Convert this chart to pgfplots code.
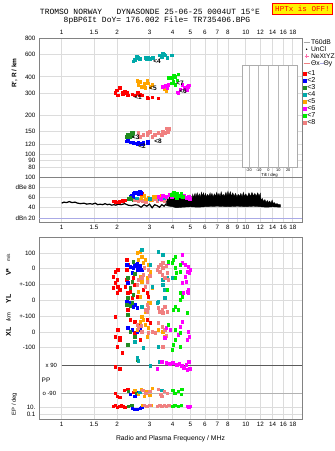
\documentclass[border=0pt]{standalone}
\usepackage{pgfplots}
\pgfplotsset{compat=1.18}
\usepackage{fontspec}
\setmainfont{Liberation Sans}
\newfontfamily\monofont{Liberation Mono}
\definecolor{cRed}{RGB}{255,0,0}
\definecolor{cBlue}{RGB}{0,0,255}
\definecolor{cGreen}{RGB}{34,139,34}
\definecolor{cTeal}{RGB}{0,170,170}
\definecolor{cOrange}{RGB}{255,165,0}
\definecolor{cMag}{RGB}{255,0,255}
\definecolor{cLime}{RGB}{0,235,0}
\definecolor{cSalmon}{RGB}{240,128,128}
\definecolor{frameC}{RGB}{130,130,130}
\definecolor{gridC}{RGB}{220,220,220}
\definecolor{lav}{RGB}{170,170,230}
\definecolor{pinkC}{RGB}{255,110,170}
\newcommand{\fsz}[1]{\fontsize{#1}{#1}\selectfont}
\pgfplotsset{pts/.style={only marks, mark=square*, mark size=1.3bp, color=#1, forget plot}}
\begin{document}
\begin{tikzpicture}
\path[use as bounding box] (0,0) rectangle (335bp,451bp);
\fill[white] (0,0) rectangle (335bp,451bp);
\node[font=\monofont\fsz{8}] at (150bp,439bp) {TROMSO NORWAY\ \ \ DYNASONDE 25-06-25 0004UT 15°E};
\node[font=\monofont\fsz{8}] at (157bp,431bp) {8pBP6It DoY= 176.002 File= TR735406.BPG};
\node[fill=yellow, draw=red, line width=0.8bp, text=red, inner sep=0pt, minimum width=60bp, minimum height=11bp, font=\monofont\fsz{7.6}] at (302.5bp,442.5bp) {HPTx is OFF!};

\begin{axis}[scale only axis, width=263bp, height=139bp, anchor=south west, at={(39bp,274bp)},
  xmode=log, xmin=0.753, xmax=20.2,
  axis line style={frameC, line width=0.8bp},
  xmajorgrids, ymajorgrids, grid style={gridC, line width=0.7bp},
  major tick length=0pt, minor tick length=0pt,
  tick label style={font=\fsz{6.3}, black},
  xtick={1,1.5,2,3,4,5,6,7,8,10,12,14,16,18},
  xticklabels={1,1.5,2,3,4,5,6,7,8,10,12,14,16,18},
  clip=false,
  ymode=log, ymin=67, ymax=800,
  ytick={80,90,100,120,150,200,300,400,600,800},
  yticklabels={80,90,100,120,150,200,300,400,600,800},
  xticklabel pos=upper,
  legend image code/.code={\draw[mark repeat=2,mark phase=2,#1] plot coordinates {(0bp,0bp)(3bp,0bp)(6bp,0bp)};},
  legend style={at={(1.004,0.993)}, anchor=north west, draw=none, fill=none,
    font=\fsz{6.8}, row sep=0.8bp, inner sep=0pt, column sep=1bp,
    nodes={inner sep=0pt, text height=5bp, text depth=1.2bp}},
  legend cell align=left]
\addlegendimage{gray!70, line width=0.8bp}\addlegendentry{T60dB}
\addlegendimage{only marks, mark=*, mark size=0.5bp, black}\addlegendentry{UnCl}
\addlegendimage{only marks, mark=+, mark size=2bp, pinkC}\addlegendentry{NeXtYZ}
\addlegendimage{cSalmon, line width=0.8bp}\addlegendentry{Θx\textcolor{lav}{\rule[1.8bp]{4bp}{0.7bp}}Θy}
\node[rotate=90, font=\bfseries\fsz{6.5}] at (rel axis cs:-0.093,0.748) {R', R / km};
\addplot[pts=cRed] coordinates {(1.99,316)(2.07,328)(2.13,305)(2.02,289)(2.15,294)(2.26,300)(2.29,289)(2.41,294)(2.50,289)(2.57,300)(2.60,305)(2.73,289)(2.91,279)(2.94,274)(3.10,279)(3.34,274)(1.95,300)(2.20,310)(2.65,292)};
\addplot[pts=cBlue] coordinates {(2.29,132)(2.26,127)(2.35,125)(2.44,123)(2.57,121)(2.60,123)(2.73,121)(2.77,123)(2.94,123)(2.94,126)(2.50,122)(2.66,122)};
\addplot[pts=cGreen] coordinates {(2.29,142)(2.38,147)(2.35,137)(2.44,147)(2.26,137)(2.40,140)};
\addplot[pts=cTeal] coordinates {(2.50,541)(2.60,560)(2.66,550)(2.84,560)(2.94,560)(3.02,550)(3.13,560)(3.42,590)(3.50,570)(3.55,612)(3.64,590)(3.74,560)(3.97,590)(2.45,530)(2.55,580)(2.90,555)(3.60,600)};
\addplot[pts=cOrange] coordinates {(2.57,372)(2.66,365)(2.60,346)(2.73,334)(2.91,378)(2.94,358)(3.02,334)(2.84,328)(3.10,346)(3.60,320)(3.70,310)(3.65,335)(2.80,355)};
\addplot[pts=cMag] coordinates {(3.55,334)(3.74,328)(3.79,346)(4.24,305)(4.51,346)(4.66,328)(4.85,334)(4.79,316)(4.29,300)(3.65,340)(4.90,345)(4.40,320)};
\addplot[pts=cLime] coordinates {(3.97,392)(4.13,399)(4.03,365)(4.24,378)(4.13,346)(3.97,358)(3.79,392)(4.30,420)(4.05,410)};
\addplot[pts=cSalmon] coordinates {(2.60,147)(2.77,142)(2.91,142)(2.94,147)(3.10,137)(3.20,142)(3.34,147)(3.50,142)(3.55,150)(3.64,147)(3.74,155)(3.79,150)(2.66,137)(3.80,158)(3.70,160)(3.00,150)};
\addplot[only marks, mark=none, forget plot, nodes near coords, point meta=explicit symbolic,
  every node near coord/.append style={anchor=center, font=\bfseries\fsz{6.5}, black}]
  coordinates {(2.60,279)[<1] (2.73,117)[<2] (2.53,137)[<3] (3.30,531)[<4] (3.13,328)[<5] (4.56,311)[<6] (4.39,358)[<7] (3.34,127)[<8]};
\end{axis}

\begin{axis}[scale only axis, width=55bp, height=102bp, anchor=south west, at={(242bp,284bp)},
  xmin=-27, xmax=29, ymin=0, ymax=1, ytick=\empty,
  xtick={-20,-10,0,10,20}, xticklabels={-20,-10,0,10,20},
  xmajorgrids, grid style={gray!55, line width=0.6bp},
  axis line style={gray!65, line width=0.8bp}, major tick length=0pt,
  axis background/.style={fill=white},
  tick label style={font=\fsz{3.9}}, xticklabel style={yshift=1.5bp},
  xlabel={Tilt / deg}, xlabel style={font=\fsz{4.3}, at={(axis description cs:0.5,-0.08)}, anchor=center},
  legend image code/.code={\draw[mark repeat=2,mark phase=2,#1] plot coordinates {(0bp,0bp)(3bp,0bp)(6bp,0bp)};},
  legend style={at={(1.109,0.945)}, anchor=north west, draw=none, fill=none,
    font=\fsz{7.2}, row sep=0.9bp, inner sep=0pt, column sep=1.5bp,
    nodes={inner sep=0pt, text height=5.1bp, text depth=1bp}},
  legend cell align=left]
\addplot[draw=none, forget plot] coordinates {(0,0.5)};
\addlegendimage{only marks, mark=square*, mark size=1.3bp, cRed}\addlegendentry{<1}
\addlegendimage{only marks, mark=square*, mark size=1.3bp, cBlue}\addlegendentry{<2}
\addlegendimage{only marks, mark=square*, mark size=1.3bp, cGreen}\addlegendentry{<3}
\addlegendimage{only marks, mark=square*, mark size=1.3bp, cTeal}\addlegendentry{<4}
\addlegendimage{only marks, mark=square*, mark size=1.3bp, cOrange}\addlegendentry{<5}
\addlegendimage{only marks, mark=square*, mark size=1.3bp, cMag}\addlegendentry{<6}
\addlegendimage{only marks, mark=square*, mark size=1.3bp, cLime}\addlegendentry{<7}
\addlegendimage{only marks, mark=square*, mark size=1.3bp, cSalmon}\addlegendentry{<8}
\end{axis}

\begin{axis}[scale only axis, width=263bp, height=45bp, anchor=south west, at={(39bp,229bp)},
  xmode=log, xmin=0.753, xmax=20.2,
  axis line style={frameC, line width=0.8bp},
  xmajorgrids, ymajorgrids, grid style={gridC, line width=0.7bp},
  major tick length=0pt, minor tick length=0pt,
  tick label style={font=\fsz{6.3}, black},
  clip=false,
  ymin=12.2, ymax=100, ytick={20,40,60,80,100},
  yticklabels={dBn 20,40,60,dBe 80,100},
  xtick={1,1.5,2,3,4,5,6,7,8,9,10,12,14,16,18},
  xticklabels={1,1.5,2,3,4,5,6,7,8,9,10,12,14,16,18}]
\addplot[lav, line width=0.8bp, forget plot] coordinates {(0.753,20)(20.2,20)};
\addplot[black, line width=1.2bp, forget plot] coordinates {(1.00,49)(1.03,51)(1.06,50)(1.10,52)(1.14,50)(1.18,51)(1.22,49)(1.27,48)(1.32,49)(1.37,47)(1.42,48)(1.47,47)(1.52,49)(1.57,46)(1.62,47)(1.67,46)(1.72,48)(1.77,46)(1.82,47)(1.87,45)(1.92,46)(1.97,45)(2.02,47)(2.10,46)(2.20,48)(2.30,45)(2.40,44)(2.50,46)(2.60,45)(2.70,41)(2.80,46)(2.90,43)(3.00,47)(3.10,40)(3.20,46)(3.30,44)(3.40,41)(3.50,46)(3.60,43)(3.70,48)};
\addplot[fill=black, draw=black, line width=0.4bp, forget plot] coordinates {(3.70,52)(3.75,60)(3.80,53)(3.85,63)(3.90,56)(3.95,68)(4.00,58)(4.05,66)(4.10,58)(4.15,64)(4.20,56)(4.25,62)(4.30,55)(4.35,60)(4.40,56)(4.45,63)(4.50,57)(4.55,61)(4.60,55)(4.65,59)(4.70,56)(4.75,61)(4.80,56)(4.85,62)(4.90,57)(4.95,64)(5.00,59)(5.05,62)(5.10,56)(5.15,66)(5.20,60)(5.30,68)(5.35,61)(5.45,69)(5.50,62)(5.60,67)(5.65,60)(5.75,70)(5.80,63)(5.90,69)(5.95,61)(6.05,68)(6.10,61)(6.20,66)(6.30,62)(6.40,69)(6.45,62)(6.55,68)(6.65,61)(6.75,67)(6.85,62)(6.95,70)(7.05,63)(7.15,68)(7.25,61)(7.35,71)(7.45,63)(7.55,66)(7.65,62)(7.80,70)(7.90,63)(8.00,72)(8.10,64)(8.25,71)(8.35,62)(8.50,69)(8.65,62)(8.80,68)(8.95,61)(9.10,66)(9.25,62)(9.40,68)(9.55,61)(9.70,70)(9.85,62)(10.0,67)(10.2,61)(10.4,69)(10.6,62)(10.8,70)(11.0,63)(11.2,68)(11.4,62)(11.6,69)(11.8,63)(12.0,68)(12.1,54)(12.3,58)(12.5,52)(12.7,56)(12.9,50)(13.1,54)(13.3,50)(13.5,53)(13.7,48)(13.9,55)(14.1,48)(14.3,50)(14.5,47)(14.8,48)(15.0,46)(15.4,46)(15.4,41)(14.0,42)(13.0,41)(12.0,42)(11.0,43)(10.0,42)(9.0,43)(8.0,42)(7.0,43)(6.0,42)(5.5,41)(5.0,42)(4.5,41)(4.2,40)(4.0,42)(3.7,44)} -- cycle;
\addplot[pts=cRed] coordinates {(1.90,53)(1.95,52)(2.00,51)(2.05,52)(2.10,53)(2.15,54)(2.20,55)(2.72,68)};
\addplot[pts=cBlue] coordinates {(2.40,64)(2.45,68)(2.50,70)(2.55,69)(2.60,67)(2.65,71)(2.70,69)(2.35,62)(2.45,61)};
\addplot[pts=cGreen] coordinates {(2.30,58)(2.35,60)(2.40,57)(2.45,55)};
\addplot[pts=cSalmon] coordinates {(2.50,55)(2.55,57)(2.60,53)(2.65,56)(2.75,54)(2.85,52)(3.10,55)(3.20,58)(3.30,54)(3.40,60)(3.50,56)(3.60,53)(3.65,58)};
\addplot[pts=cOrange] coordinates {(2.70,60)(2.80,63)(2.85,57)(2.95,60)(3.05,56)(3.15,61)(3.30,62)(3.50,64)(3.60,59)};
\addplot[pts=cTeal] coordinates {(2.55,59)(3.00,58)(3.40,57)(3.60,60)};
\addplot[pts=cMag] coordinates {(3.35,62)(3.45,58)(3.55,64)(3.70,61)(3.85,65)(3.95,62)(4.60,64)(4.75,60)(4.90,62)(4.95,58)};
\addplot[pts=cLime] coordinates {(3.95,66)(4.05,69)(4.15,63)(4.25,67)(4.35,64)(4.45,68)(4.55,62)(4.20,60)};
\end{axis}

\begin{axis}[scale only axis, width=263bp, height=182bp, anchor=south west, at={(39bp,32bp)},
  xmode=log, xmin=0.753, xmax=20.2,
  axis line style={frameC, line width=0.8bp},
  xmajorgrids, ymajorgrids, grid style={gridC, line width=0.7bp},
  major tick length=0pt, minor tick length=0pt,
  tick label style={font=\fsz{6.3}, black},
  xtick={1,1.5,2,3,4,5,6,7,8,10,12,14,16,18},
  xticklabels={1,1.5,2,3,4,5,6,7,8,10,12,14,16,18},
  clip=false,
  ymin=-419, ymax=-237,
  ytick={-414,-407,-347,-332,-316,-300,-284,-268,-253},
  yticklabels={0.1,10.,-100,0,+-100,0,+-100,0,100},
  xlabel={Radio and Plasma Frequency / MHz},
  xlabel style={font=\fsz{6.8}, at={(axis description cs:0.5,-0.11)}, anchor=center}]
\addplot[frameC!70!black, line width=0.9bp, forget plot] coordinates {(1,-365.5)(20.2,-365.5)};
\addplot[gray!60, line width=0.7bp, forget plot] coordinates {(0.99,-393)(20.2,-393)};
\node[anchor=east, font=\fsz{6}] at (axis cs:0.985,-365) {x 90};
\node[anchor=east, font=\fsz{6}] at (axis cs:0.975,-393) {o -90};
\node[font=\fsz{6.5}] at (axis cs:0.822,-380) {PP};
\node[rotate=90, font=\bfseries\fsz{7}] at (axis cs:0.514,-272) {V*};
\node[rotate=90, font=\fsz{4.8}] at (axis cs:0.514,-258) {m/s};
\node[rotate=90, font=\bfseries\fsz{7}] at (axis cs:0.514,-299) {YL};
\node[rotate=90, font=\fsz{5.8}] at (axis cs:0.514,-317) {/km};
\node[rotate=90, font=\bfseries\fsz{7}] at (axis cs:0.514,-332) {XL};
\node[rotate=90, font=\fsz{5.8}] at (axis cs:0.554,-404) {EP / deg};
\addplot[pts=cRed] coordinates {(1.95,-272)(2.02,-270)(1.90,-277)(2.00,-280)(1.95,-283)(2.02,-287)(1.90,-288)(2.07,-290)(2.00,-293)(1.95,-317)(2.02,-330)(1.95,-337)(2.07,-338)(2.00,-347)(1.95,-367)(2.26,-260)(2.29,-265)(2.26,-270)(2.21,-287)(2.29,-293)(2.35,-292)(2.26,-280)(2.44,-278)(2.50,-285)(2.41,-298)(2.57,-297)(2.29,-310)(2.35,-320)(2.50,-322)(2.67,-325)(2.77,-290)(2.91,-293)(2.95,-297)(2.50,-333)(2.67,-340)(2.07,-340)(2.13,-353)(2.91,-320)(3.02,-323)(2.07,-369)
(1.95,-393)(2.00,-396)(2.18,-390)(2.29,-389)(2.44,-392)(2.07,-397)
(1.90,-406)(1.95,-405)(2.00,-407)(2.05,-406)(2.10,-405)(2.15,-406)(2.20,-407)};
\addplot[pts=cBlue] coordinates {(2.26,-265)(2.35,-267)(2.44,-268)(2.50,-265)(2.57,-270)(2.67,-268)(2.41,-273)(2.29,-283)(2.26,-302)(2.35,-303)(2.44,-307)(2.57,-308)(2.29,-328)(2.41,-330)(2.57,-332)(2.67,-330)(2.60,-270)(2.44,-262)(2.50,-266)(2.57,-264)(2.60,-268)(2.67,-266)(2.73,-270)(2.50,-305)(2.35,-332)
(2.35,-394)(2.50,-396)(2.60,-392)
(2.41,-408)(2.50,-409)(2.57,-409)(2.67,-408)(2.73,-407)};
\addplot[pts=cGreen] coordinates {(2.29,-278)(2.41,-282)(2.35,-288)(2.44,-295)(2.29,-298)(2.41,-303)(2.29,-315)(2.35,-332)(2.29,-345)(2.50,-337)(2.57,-360)(2.26,-305)(2.35,-306)(2.44,-262)(2.50,-274)
(2.30,-391)(2.55,-393)(2.30,-406)(2.40,-405)};
\addplot[pts=cOrange] coordinates {(2.57,-253)(2.67,-252)(2.73,-257)(2.60,-260)(2.77,-263)(2.67,-277)(2.73,-282)(2.95,-265)(3.02,-272)(2.91,-278)(3.10,-288)(2.60,-292)(2.67,-297)(2.95,-303)(2.73,-307)(2.84,-312)(2.73,-317)(2.67,-322)(2.60,-327)(2.57,-330)(2.84,-325)(2.95,-328)(3.02,-303)(3.34,-330)(3.55,-332)(3.64,-337)(2.77,-320)(2.91,-337)(2.84,-260)
(2.50,-390)(2.60,-394)(2.70,-389)(2.80,-396)(2.90,-391)(3.00,-395)(3.10,-388)
(2.75,-405)(2.90,-406)(3.05,-405)};
\addplot[pts=cTeal] coordinates {(2.73,-250)(3.02,-265)(3.10,-287)(3.30,-303)(3.74,-278)(2.77,-348)(2.73,-307)(3.34,-252)(3.55,-255)(3.55,-280)(3.55,-285)(3.60,-290)(3.74,-290)(3.98,-278)(3.64,-298)(3.34,-302)(2.50,-342)(3.34,-347)(2.57,-358)
(3.02,-366)(3.42,-362)(2.60,-361)(2.65,-392)(3.50,-390)(3.30,-406)};
\addplot[pts=cSalmon] coordinates {(2.57,-285)(2.60,-280)(2.73,-278)(2.77,-275)(2.95,-270)(2.91,-282)(2.84,-287)(3.30,-270)(3.34,-267)(3.42,-272)(3.51,-275)(3.55,-268)(3.64,-278)(3.74,-273)(3.55,-263)(3.79,-280)(2.91,-305)(2.95,-308)(2.91,-312)(3.34,-308)(3.51,-310)(3.64,-307)(3.74,-312)(3.55,-313)(2.57,-325)(2.60,-328)(2.73,-332)(2.95,-333)(3.10,-332)(3.22,-333)(3.34,-323)(3.51,-327)(3.64,-330)(3.79,-325)(3.55,-347)(2.80,-268)(3.00,-276)(3.45,-265)(3.70,-266)(2.85,-310)(3.40,-312)(2.70,-326)(3.70,-336)
(2.75,-390)(2.85,-393)(3.00,-391)(3.35,-389)(3.45,-394)(3.60,-391)(3.75,-393)(3.50,-396)
(2.80,-405)(2.90,-406)(3.00,-405)(3.30,-406)(3.40,-405)(3.50,-406)(3.60,-405)(3.70,-406)(3.80,-405)};
\addplot[pts=cMag] coordinates {(4.52,-255)(4.52,-263)(4.69,-265)(4.87,-267)(4.99,-270)(4.81,-272)(4.93,-273)(4.52,-283)(4.75,-282)(4.81,-292)(4.87,-293)(4.57,-293)(3.79,-263)(4.69,-277)(4.41,-300)(4.52,-322)(4.41,-327)(4.87,-332)(4.93,-337)(3.89,-330)(3.64,-338)(4.81,-340)(3.70,-328)(4.87,-290)(4.30,-335)
(3.50,-362)(3.70,-363)(3.85,-364)(4.00,-363)(4.20,-365)(4.35,-364)(4.50,-366)(4.60,-368)(4.75,-365)(4.90,-362)(4.95,-369)(4.80,-370)(3.30,-369)
(4.80,-406)(4.90,-407)(5.00,-406)};
\addplot[pts=cLime] coordinates {(4.14,-257)(4.03,-260)(3.98,-263)(4.14,-268)(4.41,-265)(4.41,-272)(4.19,-273)(3.79,-262)(4.14,-278)(3.74,-290)(4.41,-293)(4.41,-300)(4.14,-307)(4.30,-310)(4.81,-313)(4.03,-310)(3.79,-325)(4.14,-330)(4.41,-333)(4.14,-340)(4.03,-345)(4.41,-347)(3.98,-350)(4.52,-297)
(4.00,-390)(4.10,-393)(4.30,-391)(4.45,-394)(4.50,-389)
(4.00,-406)(4.10,-405)(4.30,-406)(4.45,-405)};
\end{axis}
\end{tikzpicture}
\end{document}
